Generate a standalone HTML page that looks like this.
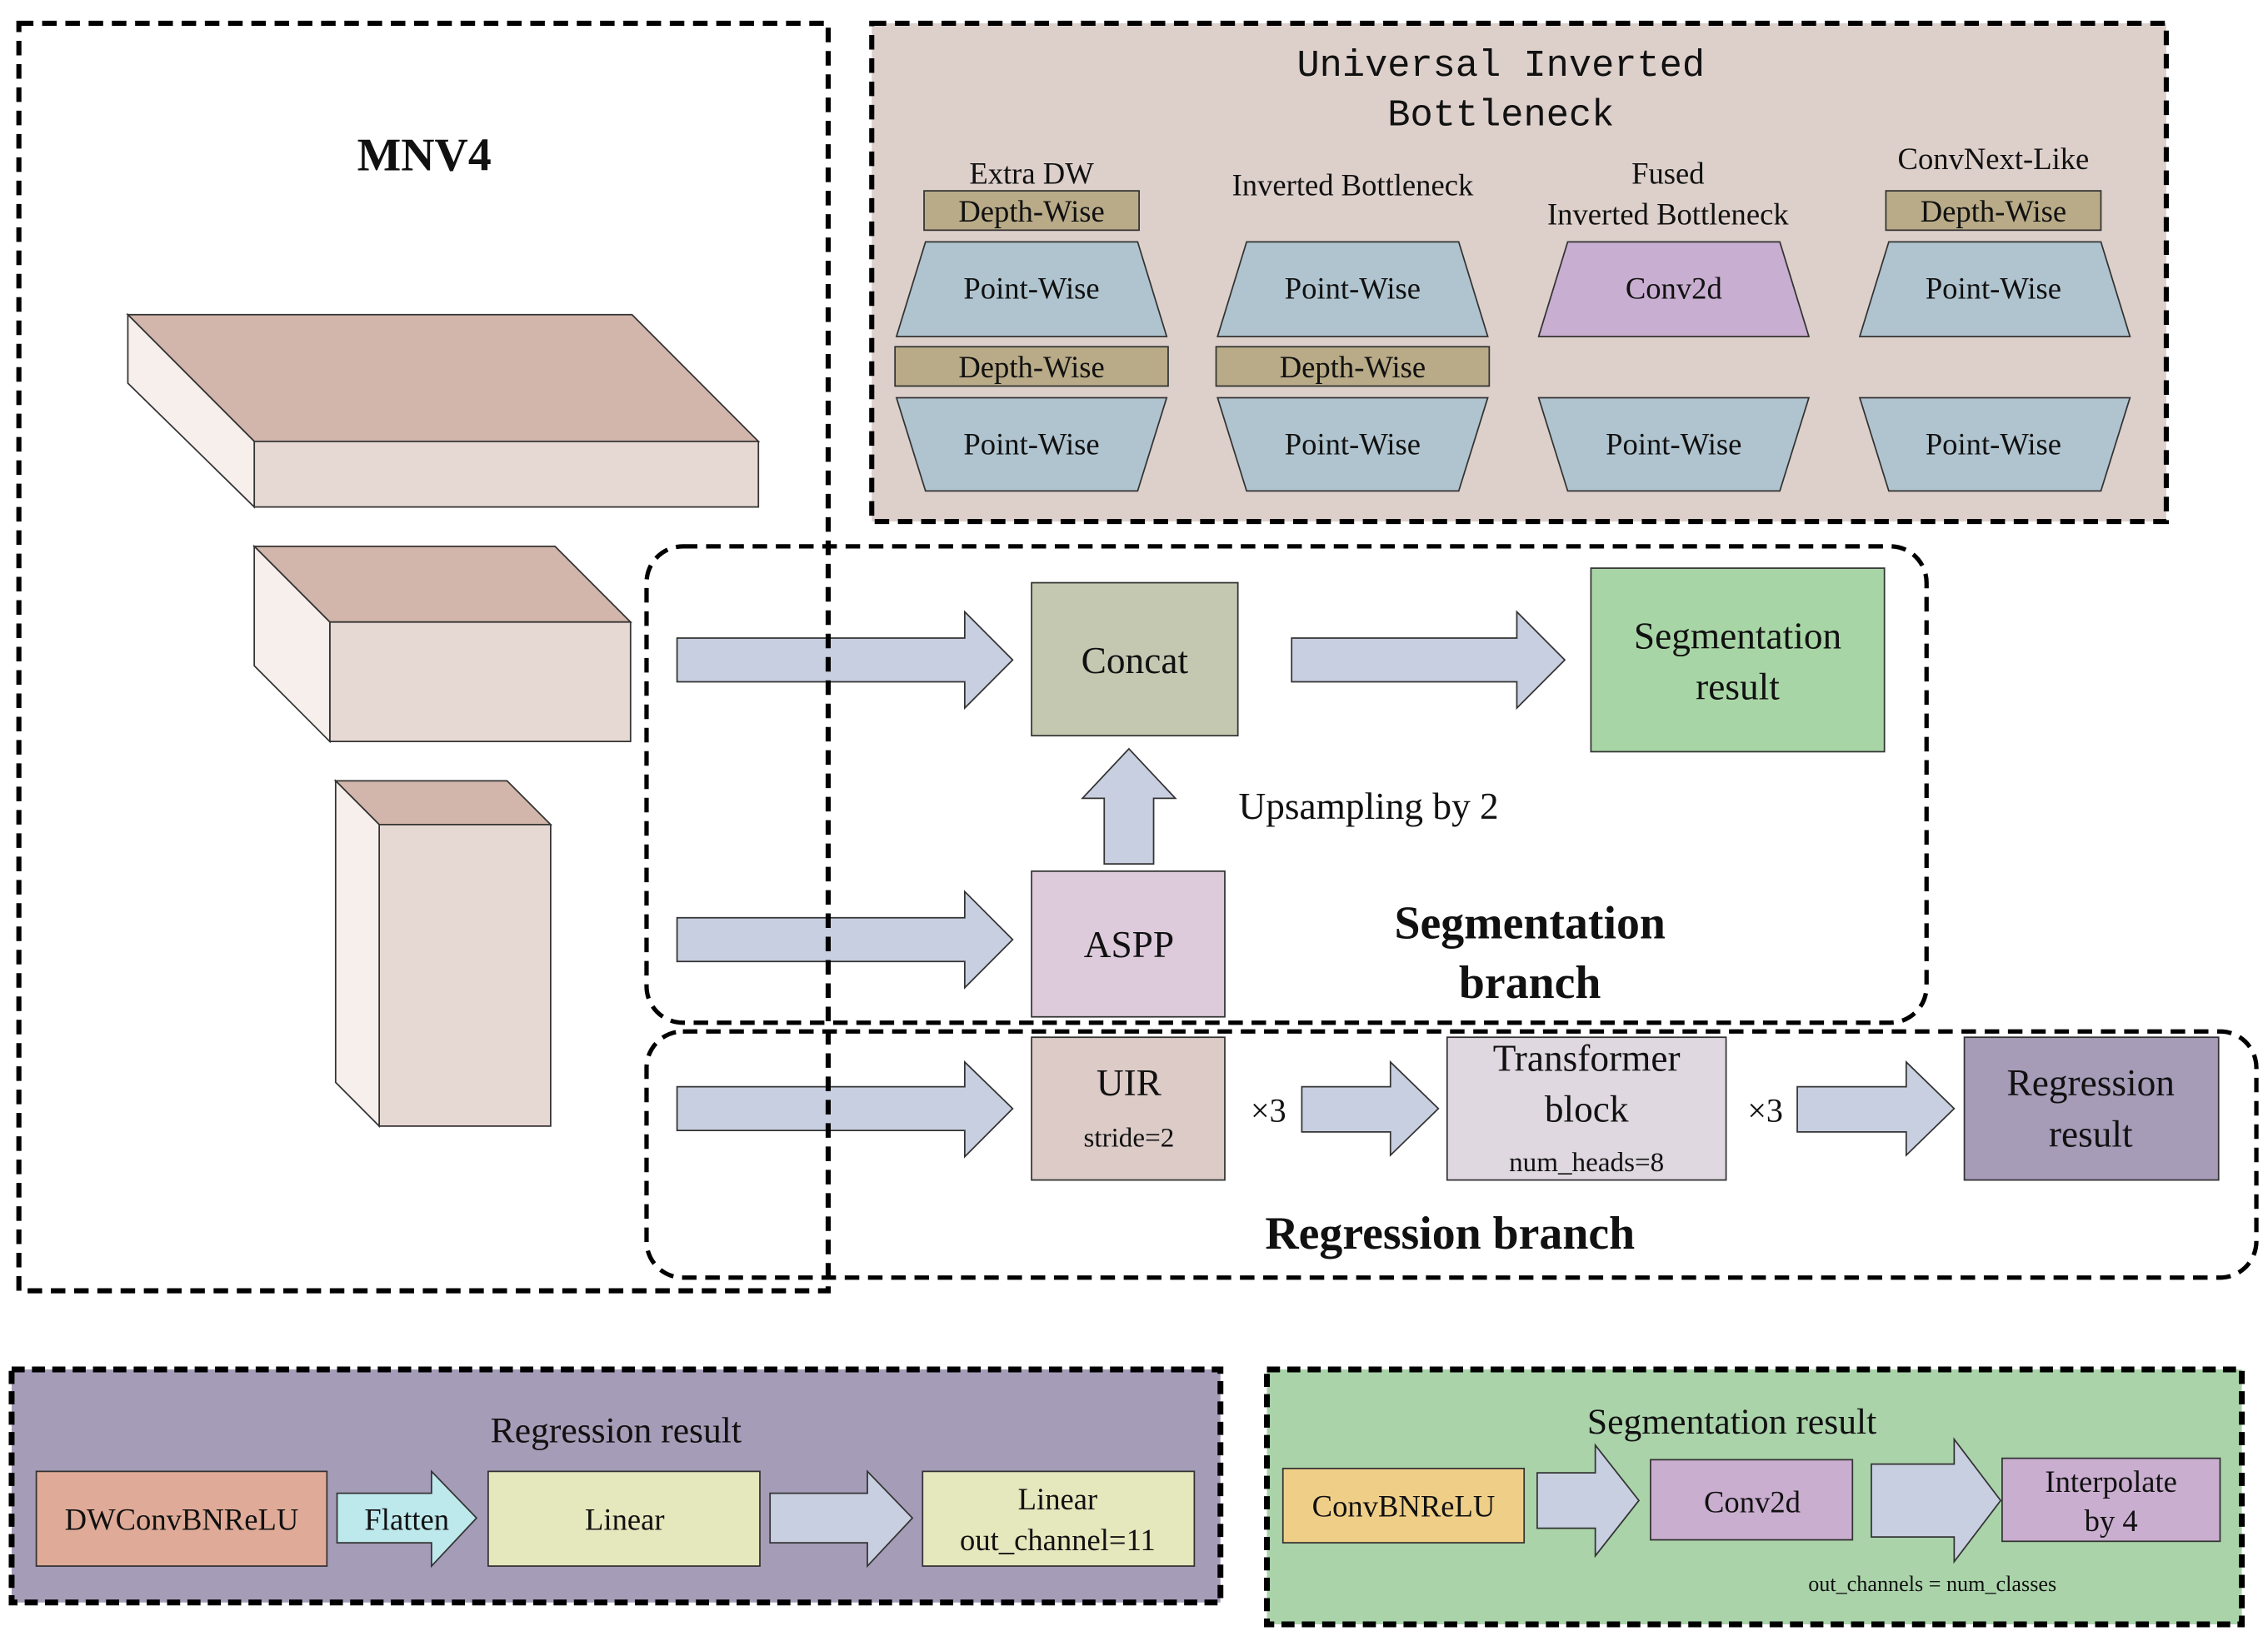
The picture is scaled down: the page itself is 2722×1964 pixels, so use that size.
<!DOCTYPE html>
<html><head><meta charset="utf-8"><style>
html,body{margin:0;padding:0;background:#fff}
svg{display:block}
text{font-family:"Liberation Serif",serif;fill:#111}
</style></head><body>
<svg width="2722" height="1964" viewBox="0 0 1561 1123" preserveAspectRatio="none" xmlns="http://www.w3.org/2000/svg">
<g stroke="#333" stroke-width="1">
<polygon points="88,216 435,216 522,303 175,303" fill="#d2b5ab"/>
<polygon points="175,303 522,303 522,348 175,348" fill="#e6d8d3"/>
<polygon points="88,216 175,303 175,348 88,263" fill="#f6efec"/>
<polygon points="175,375 382,375 434,427 227,427" fill="#d2b5ab"/>
<polygon points="227,427 434,427 434,509 227,509" fill="#e6d8d3"/>
<polygon points="175,375 227,427 227,509 175,457" fill="#f6efec"/>
<polygon points="231,536 349,536 379,566 261,566" fill="#d2b5ab"/>
<polygon points="261,566 379,566 379,773 261,773" fill="#e6d8d3"/>
<polygon points="231,536 261,566 261,773 231,743" fill="#f6efec"/>
</g>
<rect x="600" y="16" width="891" height="342" fill="#ddd0cb" stroke="#000" stroke-width="3.5" stroke-dasharray="10,6"/>
<text x="1033" y="52" font-size="26" text-anchor="middle" style="font-family:'Liberation Mono',monospace">Universal Inverted</text>
<text x="1033" y="86" font-size="26" text-anchor="middle" style="font-family:'Liberation Mono',monospace">Bottleneck</text>
<g font-size="21" text-anchor="middle">
<text x="710" y="126">Extra DW</text>
<text x="931" y="134">Inverted Bottleneck</text>
<text x="1148" y="126">Fused</text>
<text x="1148" y="154">Inverted Bottleneck</text>
<text x="1372" y="116">ConvNext-Like</text>
</g>
<g stroke="#333" stroke-width="1">
<rect x="636" y="131" width="148" height="27" fill="#b9ab87"/>
<rect x="1298" y="131" width="148" height="27" fill="#b9ab87"/>
<rect x="616" y="238" width="188" height="27" fill="#b9ab87"/>
<rect x="837" y="238" width="188" height="27" fill="#b9ab87"/>
<polygon points="637,166 783,166 803,231 617,231" fill="#b0c4cf"/>
<polygon points="858,166 1004,166 1024,231 838,231" fill="#b0c4cf"/>
<polygon points="1079,166 1225,166 1245,231 1059,231" fill="#c8aed0"/>
<polygon points="1300,166 1446,166 1466,231 1280,231" fill="#b0c4cf"/>
<polygon points="617,273 803,273 783,337 637,337" fill="#b0c4cf"/>
<polygon points="838,273 1024,273 1004,337 858,337" fill="#b0c4cf"/>
<polygon points="1059,273 1245,273 1225,337 1079,337" fill="#b0c4cf"/>
<polygon points="1280,273 1466,273 1446,337 1300,337" fill="#b0c4cf"/>
</g>
<g font-size="21" text-anchor="middle">
<text x="710" y="152">Depth-Wise</text>
<text x="1372" y="152">Depth-Wise</text>
<text x="710" y="259">Depth-Wise</text>
<text x="931" y="259">Depth-Wise</text>
<text x="710" y="205">Point-Wise</text>
<text x="931" y="205">Point-Wise</text>
<text x="1152" y="205">Conv2d</text>
<text x="1372" y="205">Point-Wise</text>
<text x="710" y="312">Point-Wise</text>
<text x="931" y="312">Point-Wise</text>
<text x="1152" y="312">Point-Wise</text>
<text x="1372" y="312">Point-Wise</text>
</g>
<rect x="445" y="375" width="881" height="327" rx="25" fill="none" stroke="#000" stroke-width="3" stroke-dasharray="10,6"/>
<rect x="445" y="708" width="1108" height="169" rx="25" fill="none" stroke="#000" stroke-width="3" stroke-dasharray="10,6"/>
<g fill="#c8cfe0" stroke="#333" stroke-width="1">
<polygon points="466,438 664,438 664,420 697,453 664,486 664,468 466,468"/>
<polygon points="889,438 1044,438 1044,420 1077,453 1044,486 1044,468 889,468"/>
<polygon points="466,630 664,630 664,612 697,645 664,678 664,660 466,660"/>
<polygon points="466,746 664,746 664,729 697,761 664,794 664,776 466,776"/>
<polygon points="760,593 760,548 745,548 777,514 809,548 794,548 794,593"/>
<polygon points="896,746 957,746 957,729 990,761 957,793 957,777 896,777"/>
<polygon points="1237,746 1312,746 1312,729 1345,761 1312,793 1312,777 1237,777"/>
</g>
<g stroke="#333" stroke-width="1">
<rect x="710" y="400" width="142" height="105" fill="#c5c8b1"/>
<rect x="1095" y="390" width="202" height="126" fill="#a8d5a5"/>
<rect x="710" y="598" width="133" height="100" fill="#ddcbdc"/>
<rect x="710" y="712" width="133" height="98" fill="#dccbc6"/>
<rect x="996" y="712" width="192" height="98" fill="#e0d8e0"/>
<rect x="1352" y="712" width="175" height="98" fill="#a69cb8"/>
</g>
<rect x="13" y="16" width="557" height="870" fill="none" stroke="#000" stroke-width="3.5" stroke-dasharray="10,6"/>
<text x="292" y="117" font-size="32" font-weight="bold" text-anchor="middle">MNV4</text>
<g text-anchor="middle">
<text x="781" y="462" font-size="26">Concat</text>
<text x="1196" y="445" font-size="26">Segmentation</text>
<text x="1196" y="480" font-size="26">result</text>
<text x="942" y="562" font-size="26">Upsampling by 2</text>
<text x="777" y="657" font-size="26">ASPP</text>
<text x="1053" y="644" font-size="32" font-weight="bold">Segmentation</text>
<text x="1053" y="685" font-size="32" font-weight="bold">branch</text>
<text x="777" y="752" font-size="26">UIR</text>
<text x="777" y="787" font-size="19">stride=2</text>
<text x="873" y="770" font-size="23">×3</text>
<text x="1092" y="735" font-size="26">Transformer</text>
<text x="1092" y="770" font-size="26">block</text>
<text x="1092" y="804" font-size="19">num_heads=8</text>
<text x="1215" y="770" font-size="23">×3</text>
<text x="1439" y="752" font-size="26">Regression</text>
<text x="1439" y="787" font-size="26">result</text>
<text x="998" y="857" font-size="32" font-weight="bold">Regression branch</text>
</g>
<rect x="8" y="940" width="832" height="160" fill="#a59cb7" stroke="#000" stroke-width="4" stroke-dasharray="9,5"/>
<rect x="872" y="940" width="671" height="175" fill="#aad3aa" stroke="#000" stroke-width="4" stroke-dasharray="9,5"/>
<g fill="#c8cfe0" stroke="#333" stroke-width="1">
<polygon points="232,1025 297,1025 297,1010 328,1042 297,1075 297,1059 232,1059" fill="#bde8ec"/>
<polygon points="530,1025 597,1025 597,1010 628,1042 597,1075 597,1059 530,1059"/>
<polygon points="1058,1011 1098,1011 1098,992 1128,1030 1098,1068 1098,1049 1058,1049"/>
<polygon points="1288,1005 1345,1005 1345,988 1377,1030 1345,1072 1345,1055 1288,1055"/>
</g>
<g stroke="#333" stroke-width="1">
<rect x="25" y="1010" width="200" height="65" fill="#dfab98"/>
<rect x="336" y="1010" width="187" height="65" fill="#e5e7bc"/>
<rect x="635" y="1010" width="187" height="65" fill="#e5e7bc"/>
<rect x="883" y="1008" width="166" height="51" fill="#efcf88"/>
<rect x="1136" y="1002" width="139" height="55" fill="#c9aecf"/>
<rect x="1378" y="1001" width="150" height="57" fill="#c9aecf"/>
</g>
<g text-anchor="middle">
<text x="424" y="990" font-size="25">Regression result</text>
<text x="125" y="1050" font-size="21">DWConvBNReLU</text>
<text x="280" y="1050" font-size="21">Flatten</text>
<text x="430" y="1050" font-size="21">Linear</text>
<text x="728" y="1036" font-size="21">Linear</text>
<text x="728" y="1064" font-size="21">out_channel=11</text>
<text x="1192" y="984" font-size="25">Segmentation result</text>
<text x="966" y="1041" font-size="21">ConvBNReLU</text>
<text x="1206" y="1038" font-size="21">Conv2d</text>
<text x="1453" y="1024" font-size="21">Interpolate</text>
<text x="1453" y="1051" font-size="21">by 4</text>
<text x="1330" y="1092" font-size="15">out_channels = num_classes</text>
</g>
</svg>
</body></html>
